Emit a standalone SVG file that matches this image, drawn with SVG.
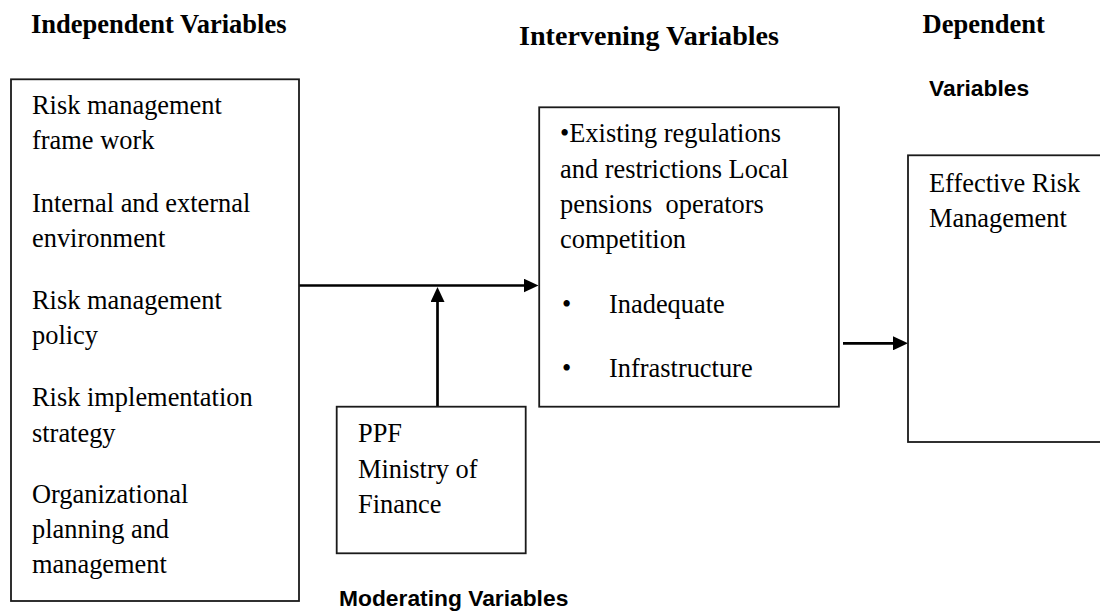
<svg xmlns="http://www.w3.org/2000/svg" width="1100" height="611" viewBox="0 0 1100 611">
<style>
.box{fill:#fff;stroke:#1a1a1a;stroke-width:1.8}
.t{font-family:"Liberation Serif","Times New Roman",serif;font-size:26.4px;fill:#000}
.h{font-family:"Liberation Serif","Times New Roman",serif;font-size:26.5px;font-weight:bold;fill:#000}
.hs{font-family:"Liberation Sans",Arial,sans-serif;font-size:22.8px;font-weight:bold;fill:#000}
.arr{stroke:#000;stroke-width:2.7;fill:none}
</style>
<defs>
<marker id="ah" viewBox="0 0 15 14" refX="7" refY="7" markerWidth="15" markerHeight="14" markerUnits="userSpaceOnUse" orient="auto">
<path d="M0,0 L15,7 L0,14 z" fill="#000"/>
</marker>
</defs>
<rect width="1100" height="611" fill="#fff"/>
<g id="headings">
<text class="h" x="31" y="33.3">Independent Variables</text>
<text class="h" x="519" y="45" textLength="260" lengthAdjust="spacingAndGlyphs">Intervening Variables</text>
<text class="h" x="922.5" y="33.3">Dependent</text>
<text class="hs" x="929" y="95.7">Variables</text>
<text class="hs" x="339" y="605.5">Moderating Variables</text>
</g>
<g id="connectors">
<line class="arr" x1="299" y1="285.5" x2="530.5" y2="285.5" marker-end="url(#ah)"/>
<line class="arr" x1="437.5" y1="406.7" x2="437.5" y2="295" marker-end="url(#ah)"/>
<line class="arr" x1="843" y1="343.3" x2="900" y2="343.3" marker-end="url(#ah)"/>
</g>
<g id="independent">
<rect class="box" x="11" y="79.3" width="288" height="521.7"/>
<text class="t" x="32" y="114.3">Risk management</text>
<text class="t" x="32" y="149">frame work</text>
<text class="t" x="32" y="211.7">Internal and external</text>
<text class="t" x="32" y="246.7">environment</text>
<text class="t" x="32" y="309">Risk management</text>
<text class="t" x="32" y="344">policy</text>
<text class="t" x="32" y="406">Risk implementation</text>
<text class="t" x="32" y="441.5">strategy</text>
<text class="t" x="32" y="503">Organizational</text>
<text class="t" x="32" y="538">planning and</text>
<text class="t" x="32" y="573">management</text>
</g>
<g id="moderating">
<rect class="box" x="336.7" y="406.7" width="189" height="146.6"/>
<text class="t" x="358" y="442">PPF</text>
<text class="t" x="358" y="478">Ministry of</text>
<text class="t" x="358" y="513">Finance</text>
</g>
<g id="intervening">
<rect class="box" x="539.2" y="107.3" width="299.7" height="299.4"/>
<text class="t" x="560" y="141.7">•Existing regulations</text>
<text class="t" x="560" y="178">and restrictions Local</text>
<text class="t" x="560" y="213" xml:space="preserve">pensions  operators</text>
<text class="t" x="560" y="248">competition</text>
<text class="t" x="562" y="313">•</text>
<text class="t" x="609" y="313">Inadequate</text>
<text class="t" x="562" y="376.7">•</text>
<text class="t" x="609" y="376.7">Infrastructure</text>
</g>
<g id="dependent">
<rect class="box" x="908" y="155.3" width="210" height="286.7"/>
<text class="t" x="929" y="191.7">Effective Risk</text>
<text class="t" x="929" y="226.7">Management</text>
</g>
</svg>
